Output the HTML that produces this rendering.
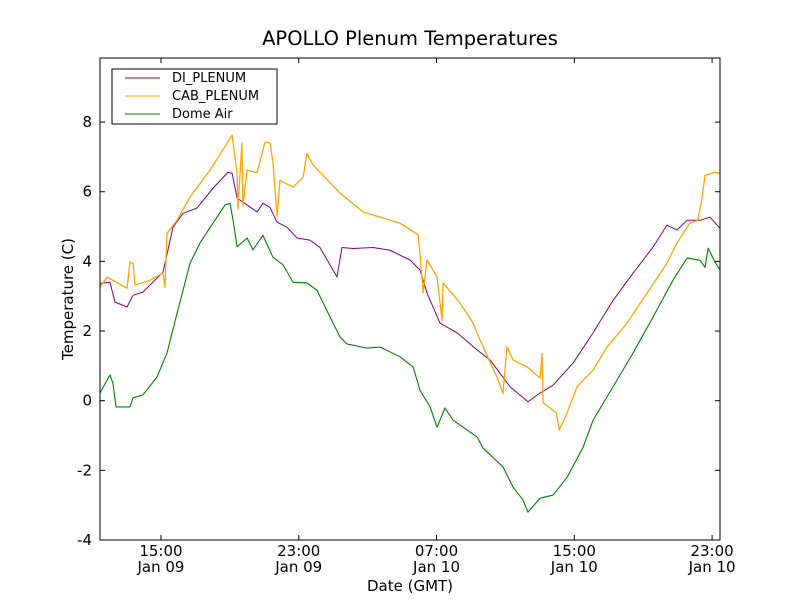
<!DOCTYPE html>
<html><head><meta charset="utf-8"><style>
body{margin:0;background:#fff;}
svg{font-family:"DejaVu Sans","Liberation Sans",sans-serif;}
</style></head><body>
<svg id="chart" width="800" height="600" xmlns="http://www.w3.org/2000/svg">
<rect width="800" height="600" fill="#fff"/>
<text x="410" y="45" font-size="19.5" text-anchor="middle">APOLLO Plenum Temperatures</text>
<g id="plot"></g>
<rect x="100" y="58" width="620" height="482" fill="none" stroke="#000" stroke-width="1"/>
<text x="410" y="591" font-size="15" text-anchor="middle">Date (GMT)</text>
<text transform="translate(73,299) rotate(-90)" font-size="15" text-anchor="middle">Temperature (C)</text>
<g>
<rect x="112" y="69" width="165" height="55" fill="#fff" stroke="#000"/>
<line x1="125" y1="78" x2="160" y2="78" stroke="purple"/>
<text x="172" y="82" font-size="13">DI_PLENUM</text>
<line x1="125" y1="96" x2="160" y2="96" stroke="orange"/>
<text x="172" y="100" font-size="13">CAB_PLENUM</text>
<line x1="125" y1="114" x2="160" y2="114" stroke="green"/>
<text x="172" y="118" font-size="13">Dome Air</text>
</g>
</svg>
<script>
const yTicks=[-4,-2,0,2,4,6,8];
const xTickHours=[15,23,31,39,47];
const xTickTimes=["15:00","23:00","07:00","15:00","23:00"];
const xTickDates=["Jan 09","Jan 09","Jan 10","Jan 10","Jan 10"];
const domeT=[11.46,12.04,12.21,12.39,13.20,13.38,13.96,14.77,15.35,15.93,16.28,16.69,17.27,18.02,18.72,19.01,19.18,19.42,20.0,20.34,20.92,21.50,22.09,22.67,23.48,24.06,24.82,25.40,25.80,26.96,27.72,28.88,29.64,30.04,30.62,31.03,31.49,31.96,33.35,33.70,34.86,35.44,36.02,36.31,37.01,37.77,38.58,39.51,40.09,41.25,42.41,43.57,44.73,45.55,46.30,46.59,46.77,47.17,47.46];
const domeV=[0.22,0.74,0.5,-0.18,-0.18,0.08,0.17,0.68,1.37,2.5,3.17,3.95,4.53,5.1,5.62,5.67,5.2,4.42,4.67,4.33,4.75,4.12,3.9,3.4,3.38,3.17,2.4,1.83,1.63,1.51,1.54,1.26,0.97,0.3,-0.17,-0.76,-0.21,-0.56,-1.04,-1.36,-1.9,-2.48,-2.85,-3.2,-2.8,-2.71,-2.2,-1.34,-0.56,0.4,1.37,2.4,3.46,4.1,4.03,3.83,4.38,3.98,3.75];
const diT=[11.46,12.04,12.33,13.03,13.38,13.96,15.12,15.70,16.28,17.09,18.02,18.89,19.13,19.42,20.0,20.58,20.92,21.33,21.74,22.32,22.90,23.65,24.23,25.22,25.51,26.15,27.31,28.30,29.46,30.04,30.45,31.20,32.19,33.35,34.11,35.27,36.31,37.01,37.77,38.93,40.09,41.25,42.41,43.57,44.38,44.96,45.55,46.30,46.88,47.46];
const diV=[3.37,3.4,2.83,2.69,3.03,3.12,3.69,4.98,5.38,5.53,6.1,6.56,6.53,5.82,5.62,5.42,5.67,5.55,5.13,4.98,4.67,4.61,4.4,3.55,4.4,4.37,4.4,4.32,4.04,3.75,3.09,2.23,1.95,1.46,1.17,0.4,-0.03,0.22,0.45,1.08,1.95,2.88,3.66,4.41,5.04,4.9,5.18,5.18,5.27,4.95];
const cabT=[11.46,11.87,13.03,13.20,13.38,13.49,14.36,15.12,15.23,15.35,15.93,16.69,17.85,19.13,19.42,19.47,19.70,19.76,20.0,20.58,21.04,21.33,21.50,21.74,21.91,22.67,23.25,23.48,23.83,25.40,26.73,27.72,28.88,29.93,30.04,30.22,30.45,31.03,31.32,31.38,32.37,33.12,33.53,34.51,34.86,35.09,35.44,36.26,37.01,37.13,37.19,37.95,38.13,38.58,39.16,40.09,40.90,42.06,43.22,44.38,44.96,45.71,46.17,46.40,46.59,47.17,47.46];
const cabV=[3.26,3.55,3.23,3.98,3.95,3.32,3.46,3.66,3.26,4.81,5.18,5.85,6.62,7.62,6.53,5.5,7.4,5.6,6.62,6.55,7.42,7.4,6.85,5.3,6.33,6.13,6.42,7.1,6.77,5.96,5.42,5.27,5.1,4.76,4.24,3.1,4.04,3.55,2.3,3.38,2.8,2.23,1.74,0.68,0.2,1.55,1.17,0.97,0.65,1.35,-0.06,-0.35,-0.84,-0.35,0.4,0.88,1.54,2.23,3.09,3.95,4.53,5.1,5.18,5.76,6.47,6.56,6.53];
const X0=100,X1=720,Y0=540,Y1=58,tMin=11.46,tMax=47.46,vMin=-4,vMax=9.84;
const xs=t=>X0+(t-tMin)/(tMax-tMin)*(X1-X0);
const ys=v=>Y0-(v-vMin)/(vMax-vMin)*(Y0-Y1);
const NS="http://www.w3.org/2000/svg";
const g=document.getElementById('plot');
function mk(tag,attrs){const e=document.createElementNS(NS,tag);for(const k in attrs)e.setAttribute(k,attrs[k]);g.appendChild(e);return e;}
yTicks.forEach(v=>{
  const y=ys(v);
  const l1=mk('line',{x1:X0,x2:X0+5,y1:y,y2:y,stroke:'#000'});
  
  
  const l2=mk('line',{x1:X1-5,x2:X1,y1:y,y2:y,stroke:'#000'});
  
  
  const t=mk('text',{x:X0-8,y:y+5,'font-size':15,'text-anchor':'end'});
  t.textContent=v;
  
  
});
xTickHours.forEach((h,i)=>{
  const x=xs(h);
  const l1=mk('line',{x1:x,x2:x,y1:Y0,y2:Y0-5,stroke:'#000'});
  
  
  const l2=mk('line',{x1:x,x2:x,y1:Y1,y2:Y1+5,stroke:'#000'});
  
  
  const t=mk('text',{x:x,y:556,'font-size':15,'text-anchor':'middle'});
  t.textContent=xTickTimes[i];
  
  
  const d=mk('text',{x:x,y:572,'font-size':15,'text-anchor':'middle'});
  d.textContent=xTickDates[i];
  
  
});
function series(T,V,color,name,w){
  const p=mk('polyline',{points:T.map((t,i)=>xs(t)+','+ys(V[i])).join(' '),fill:'none',stroke:color,'stroke-width':w,'stroke-linejoin':'round'});
  
  
}
series(domeT,domeV,'green','dome-air-line',1.1);
series(diT,diV,'purple','di-plenum-line',1);
series(cabT,cabV,'orange','cab-plenum-line',1.3);
</script>
</body></html>
